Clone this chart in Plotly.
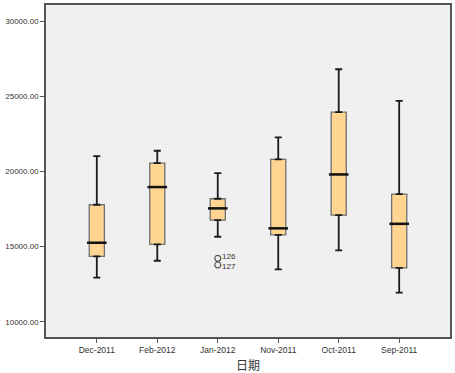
import plotly.graph_objects as go

categories = ["Dec-2011", "Feb-2012", "Jan-2012", "Nov-2011", "Oct-2011", "Sep-2011"]
lower_whisker = [12930, 14060, 15660, 13490, 14750, 11930]
q1 = [14350, 15150, 16770, 15790, 17100, 13580]
median = [15260, 18970, 17550, 16220, 19810, 16520]
q3 = [17790, 20570, 18190, 20810, 23960, 18500]
upper_whisker = [21030, 21390, 19900, 22280, 26820, 24710]

outlier_cat = ["Jan-2012", "Jan-2012"]
outlier_val = [14220, 13780]
outlier_lbl = ["126", "127"]
outlier_yshift = [2, -2]

fill = "#FFD591"
fig = go.Figure()

# Whiskers with caps (error bars)
fig.add_trace(go.Scatter(
    x=categories, y=q3, mode="markers", marker=dict(size=0.1, opacity=0),
    error_y=dict(type="data", symmetric=False,
                 array=[u - q for u, q in zip(upper_whisker, q3)],
                 arrayminus=[0] * len(q3), color="#1a1a1a", thickness=1.8, width=3.5),
    showlegend=False, hoverinfo="skip"))
fig.add_trace(go.Scatter(
    x=categories, y=q1, mode="markers", marker=dict(size=0.1, opacity=0),
    error_y=dict(type="data", symmetric=False,
                 array=[0] * len(q1),
                 arrayminus=[q - l for q, l in zip(q1, lower_whisker)],
                 color="#1a1a1a", thickness=1.8, width=3.5),
    showlegend=False, hoverinfo="skip"))

# Boxes
fig.add_trace(go.Box(
    x=categories, q1=q1, median=median, q3=q3,
    lowerfence=q1, upperfence=q3,
    width=0.25, fillcolor=fill,
    line=dict(color="#707070", width=1.3),
    boxpoints=False, showlegend=False, hoverinfo="skip"))

# Median lines
fig.add_trace(go.Scatter(
    x=categories, y=median, mode="markers",
    marker=dict(symbol="line-ew", size=14, line=dict(color="#111111", width=2.5)),
    showlegend=False, hoverinfo="skip"))

# Outliers
fig.add_trace(go.Scatter(
    x=outlier_cat, y=outlier_val, mode="markers",
    marker=dict(symbol="circle-open", size=6, color="#555555", line=dict(width=1.2)),
    showlegend=False, hoverinfo="skip"))

annotations = [dict(text="日期", xref="paper", yref="paper", x=0.5, y=-0.084,
                    xanchor="center", yanchor="middle", showarrow=False,
                    font=dict(family="Noto Sans CJK SC", size=12, color="#333333"))]
for c, v, t, s in zip(outlier_cat, outlier_val, outlier_lbl, outlier_yshift):
    annotations.append(dict(text=t, x=c, y=v, xref="x", yref="y", showarrow=False,
                            xanchor="left", yanchor="middle", xshift=2, yshift=s,
                            font=dict(family="Liberation Sans, Arial", size=8, color="#333333")))

fig.update_layout(
    width=455, height=373,
    margin=dict(l=46, r=5, t=5, b=36),
    paper_bgcolor="white", plot_bgcolor="#F0F0F0",
    font=dict(family="Liberation Sans, Arial", size=8, color="#333333"),
    annotations=annotations,
)
fig.update_xaxes(
    type="category", categoryorder="array", categoryarray=categories,
    range=[-0.84, 5.84], automargin=False,
    showline=True, linecolor="#555555", linewidth=1.5, mirror=True,
    ticks="outside", ticklen=4, tickcolor="#555555",
    tickfont=dict(size=8.5),
    showgrid=False, zeroline=False,
)
fig.update_yaxes(
    range=[8980, 31100], automargin=False,
    tickvals=[10000, 15000, 20000, 25000, 30000],
    ticktext=["10000.00", "15000.00", "20000.00", "25000.00", "30000.00"],
    showline=True, linecolor="#555555", linewidth=1.5, mirror=True,
    ticks="outside", ticklen=4, tickcolor="#555555",
    tickfont=dict(size=8),
    showgrid=False, zeroline=False,
)

fig.write_html("out.html", config={"displayModeBar": False},
               post_script="document.body.style.margin='0';")
